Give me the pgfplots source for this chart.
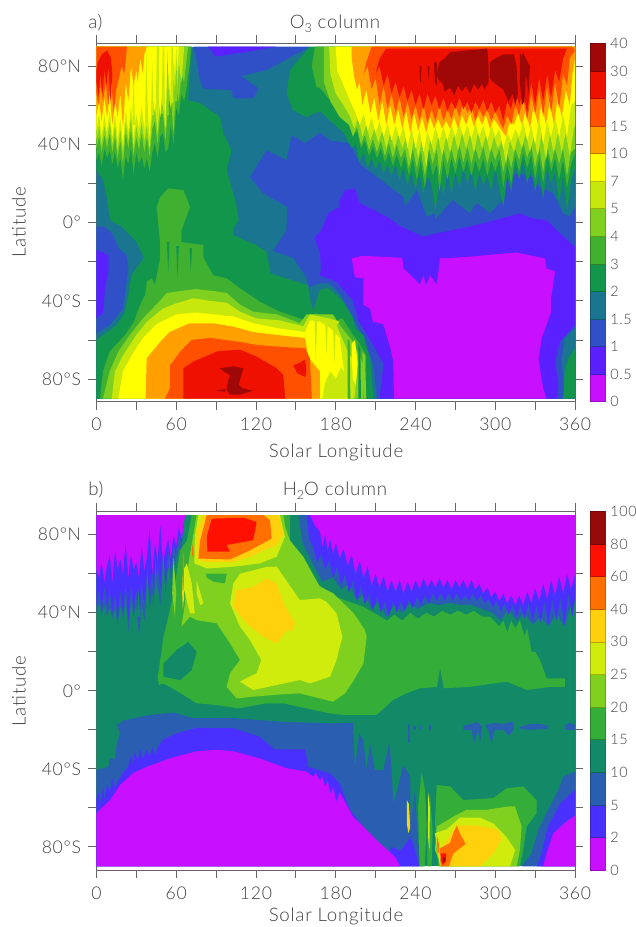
\documentclass[border=0pt]{standalone}
\usepackage{pgfplots}
\pgfplotsset{compat=1.18}
\usepackage{fontspec}
\setmainfont[LetterSpace=4]{Lato Light}
\definecolor{ink}{HTML}{404040}
% ozone palette
\definecolor{aA}{HTML}{C80FFF}\definecolor{aB}{HTML}{5A20FF}\definecolor{aC}{HTML}{3050C8}
\definecolor{aD}{HTML}{1A7590}\definecolor{aE}{HTML}{12964C}\definecolor{aF}{HTML}{40B030}
\definecolor{aG}{HTML}{80D020}\definecolor{aH}{HTML}{C8E80C}\definecolor{aI}{HTML}{FFFF00}
\definecolor{aJ}{HTML}{FFA000}\definecolor{aK}{HTML}{FF5000}\definecolor{aL}{HTML}{F01000}
\definecolor{aM}{HTML}{A00808}
% water palette
\definecolor{bA}{HTML}{C80FFF}\definecolor{bB}{HTML}{4A30FF}\definecolor{bC}{HTML}{2A5EB0}
\definecolor{bD}{HTML}{128A68}\definecolor{bE}{HTML}{34AE38}\definecolor{bF}{HTML}{80D020}
\definecolor{bG}{HTML}{D0EC0C}\definecolor{bH}{HTML}{FFD00C}\definecolor{bI}{HTML}{FF7000}
\definecolor{bJ}{HTML}{FF1000}\definecolor{bK}{HTML}{960A0A}
\newcommand\poly[2]{\addplot[fill=#1,draw=none,forget plot] coordinates {#2} --cycle;}
\newcommand\bin[2]{\addplot[fill=#1,draw=#1!75!black,line width=0.5pt,forget plot] coordinates {(0,#2)(1,#2)(1,#2+1)(0,#2+1)} --cycle;}
\pgfplotsset{
  mapstyle/.style={
    scale only axis, anchor=south west, width=359pt,
    xmin=0,xmax=360,
    axis line style={ink!80,line width=0.6pt},
    tick style={ink!80,line width=0.6pt},
    major tick length=6pt, minor tick length=0pt,
    tick align=outside, tick pos=both,
    xtick={0,30,...,360},
    xticklabels={0,,60,,120,,180,,240,,300,,360},
    ytick={-80,-60,-40,-20,0,20,40,60,80},
    yticklabels={80°S,,40°S,,0°,,40°N,,80°N},
    tick label style={font=\fontsize{13.2}{15}\selectfont,text=ink},
    xticklabel pos=lower, yticklabel pos=left,
    x tick label style={yshift=-3pt},
    y tick label style={xshift=-2pt},
    clip=true,
  },
  barstyle/.style={
    scale only axis, anchor=south west, width=11.8pt,
    xmin=0,xmax=1,xtick=\empty,
    axis line style={ink!60,line width=0.5pt},
    major tick length=0pt,
    yticklabel pos=right,
    tick label style={font=\fontsize{10.8}{14}\selectfont,text=ink},
    y tick label style={xshift=0pt},
  },
}
\begin{document}
\begin{tikzpicture}[x=0.75pt,y=0.75pt]
\useasboundingbox (0,0) rectangle (635,927);
%% ---------------- panel a
\begin{axis}[mapstyle,at={(72.3pt,393.975pt)},height=268.65pt,ymin=-91.6,ymax=91.6]
\poly{aD}{(0,-90)(360,-90)(360,90)(0,90)}
% blue, <=1.5
\poly{aC}{(73,90)(160.6,90)(128,78)(109,75)(122,68.5)(118,63.5)(103,63.5)(101.7,67.7)(80.5,68.5)(77.4,73.7)(75.4,83)}
\poly{aC}{(115.5,23.4)(128,37)(143,32)(147,44.7)(157,40.5)(168,46)(175.7,42)(190.7,40.5)(198,30)(210.8,23.4)(231,13)(232,8)(241,16.6)(248.5,3)(254.6,4.7)(254.6,1.3)(268,11.5)(281,4.7)(286,10)(296,4.7)(307.3,13)(308.5,25)(318.5,25)(328.5,23)(333.5,18)(343.6,15)(351,4.7)(356,3)(360,8)(360,-90)(211,-90)(208,-72)(200,-58)(192,-47)(183,-36)(175,-31)(168,-31)(160,-33)(158,-28)(148,-18)(133,-14.5)(143,-4)(143.5,8)(125.5,15)}
\poly{aC}{(0,-2)(6,-2)(12.7,-6.4)(16.5,-13)(22.7,-16.6)(24,-23.4)(21.5,-37)(20,-44)(10,-52.4)(0,-56.6)}
% violet, <=1
\poly{aB}{(84,90)(135,90)(110,87)(90,85)}
\poly{aB}{(169,-4)(174.4,4.7)(183,8)(183,11.5)(187,16.6)(194.5,17.5)(198,10)(218.5,3)(229,-2)(246,-7.2)(256,-5.5)(281,-2)(293,0)(318.5,4.7)(328.5,2)(338.6,1.3)(350,-6.4)(360,-12.4)(360,-52.4)(348.5,-61)(345,-71)(347.4,-83)(346.6,-90)(213,-90)(216,-72)(205,-59)(197,-50)(193,-40)(180,-30)(168,-27)(169,-23.4)(168,-15)(164,-8)}
\poly{aB}{(0,-14)(9,-16.6)(9,-25)(6.5,-33.6)(5,-46)(0,-49)}
% magenta, <=0.5
\poly{aA}{(192,-18.3)(200,-17)(215,-17.5)(230,-18)(231,-23.4)(243.4,-31.6)(246,-27)(248,-32)(251,-27)(256,-31.6)(258.5,-18)(262,-18.3)(280,-17.5)(298.5,-16.3)(316,-15.3)(337.3,-18.3)(338.5,-23.4)(345,-25)(342,-38.7)(342,-45.6)(335,-59)(332.5,-70)(336,-84.8)(338.5,-90)(223.8,-90)(223.3,-71)(221,-64)(215.8,-52)(208,-50.7)(205.8,-44)(200.8,-42)(200.8,-28.5)(194.5,-28)}
% bottom right corner
\poly{aD}{(360,-54)(352,-59)(350,-71)(352.3,-90)(360,-90)}
\poly{aE}{(360,-64.3)(355,-69.4)(352.3,-76)(351,-90)(360,-90)}
% green, >=2
\poly{aE}{(0,27)(5,22)(7.8,13)(10.3,1.3)(19,-2)(30.3,-10)(35.8,-18)(26.5,-26.8)(24,-37)(21.5,-45.6)(15.3,-52.4)(0,-60)(0,-90)(208.5,-90)(207,-80)(205.8,-69.4)(200.8,-57.5)(194.5,-54)(193,-49)(185.6,-40.5)(180.6,-37)(174,-33.5)(168,-34.5)(163,-45)(161,-40)(159,-32)(131,-26)(128,-15)(120,-11.5)(103,-6.4)(103,-3)(107,1.3)(105,10)(98,27)(101.7,37)(95.5,45.6)(93,54)(78.4,61)(69,62.6)(71.7,90)(0,90)}
\poly{aE}{(168,57)(176,52)(186,46)(192,38)(195,40)(198,31)(201,36)(204,28)(207,33)(210,27)(213,32)(216,25)(219,30)(222,24)(225,30)(228,22)(231,28)(234,19)(237,26)(240,17)(243,25)(246,15)(249,24)(252,20)(255,6)(258,22)(261,14)(264,27)(267,15)(270,26)(273,18)(276,28)(279,20)(282,27)(285,16)(288,26)(291,19)(294,24)(297,16)(300,28)(303,18)(306,8)(309,24)(312,16)(315,30)(318,22)(321,32)(324,20)(327,28)(330,16)(333,26)(336,12)(339,28)(342,20)(345,26)(348,10)(351,24)(354,6)(357,22)(360,28)(360,90)(160.6,90)(145.6,78)(143,66)(148,57.5)(158,54)}
% lime, >=3
\poly{aF}{(0,32)(2,36)(4,29)(6,38)(8,33)(10,37)(12,30)(14,36)(16,28)(18,33)(20,22)(22,34)(24,30)(26,38)(28,25)(30,36)(32,30)(34,34)(36,28)(38,33)(40,26)(42,36)(44,41)(46,33)(48,44)(50,46)(52,36)(54,38)(56,50)(58,40)(60,59)(62,55)(64,66)(66,62)(68,70)(70,80)(71.5,90)(0,90)}
\poly{aF}{(164.4,90)(162,80)(165.7,69)(168,69)(175.7,62.6)(183,57.5)(193.6,45.6)(196,47)(199,38)(202,42)(205,34)(208,39)(211,33)(214,38)(217,31)(220,36)(223,29)(226,35)(229,28)(232,34)(235,24)(238,33)(241,22)(244,32)(247,18)(250,33)(253,24)(256,30)(258,16)(261,32)(264,22)(267,33)(270,25)(273,34)(276,26)(279,33)(282,24)(285,32)(288,26)(291,33)(294,24)(297,32)(300,26)(303,33)(306,18)(309,30)(312,20)(315,34)(318,26)(321,36)(324,28)(327,35)(330,22)(333,33)(336,20)(339,35)(342,26)(345,33)(348,22)(351,32)(354,18)(357,30)(360,35)(360,90)}
\poly{aF}{(2.7,-90)(5,-76)(10,-66)(21.5,-57.5)(28,-51)(33,-42)(36.6,-37)(38,-30)(41.7,-28.5)(44,-32)(48,-18)(48,-11.5)(45.4,8)(48,13)(54,17.5)(65.4,16.6)(70.4,8)(64,-4)(64,-10)(80.5,-11.5)(80.5,-18)(88,-27)(98,-28.5)(108,-33.6)(123,-40.5)(136,-45)(157,-50)(159.5,-47.3)(164.4,-46.4)(168,-47)(178,-50.7)(185,-49)(193,-57.5)(197,-61)(203,-68)(200.8,-90)}
% green streaks in the lime tongue
\poly{aE}{(53,-10)(54,-26)(55,-10)}\poly{aE}{(60,-12)(61,-28)(62,-12)}\poly{aE}{(70,-13)(71,-25)(72,-13)}
% >=4
\poly{aG}{(0,38)(2,44)(4,36)(6,45)(8,38)(10,46)(12,36)(14,44)(16,33)(18,42)(20,30)(22,46)(24,38)(26,48)(28,34)(30,44)(32,37)(34,46)(36,36)(38,44)(40,34)(42,48)(44,52)(46,40)(48,55)(50,56)(52,42)(54,60)(56,64)(58,46)(60,70)(62,62)(64,76)(66,72)(68,84)(69,90)(0,90)}
\poly{aG}{(171,90)(171,72)(176,62)(183,54)(190,50)(193,44)(196,49)(199,40)(202,45)(205,37)(208,43)(211,36)(214,42)(217,34)(220,41)(223,33)(226,40)(229,33)(232,38)(235,28)(238,38)(241,28)(244,37)(247,24)(250,38)(253,30)(256,38)(258,24)(261,38)(264,30)(267,38)(270,30)(273,40)(276,31)(279,39)(282,30)(285,38)(288,32)(291,39)(294,30)(297,38)(300,32)(303,38)(306,26)(309,36)(312,28)(315,38)(318,32)(321,41)(324,33)(327,40)(330,28)(333,39)(336,26)(339,40)(342,30)(345,38)(348,30)(351,38)(354,24)(357,36)(360,38)(360,90)}
\poly{aG}{(5,-90)(10,-76)(16.5,-66)(25,-57.6)(35,-49)(45,-42)(53,-36)(63,-35)(75,-34)(88,-35)(98,-36)(108,-42)(118,-45.6)(136,-47)(153,-51.5)(158,-47)(178,-47)(183,-52.4)(193,-61)(201,-73)(200.8,-90)}
% >=5
\poly{aH}{(0,42)(2,50)(4,40)(6,50)(8,42)(10,52)(12,40)(14,50)(16,37)(18,48)(20,36)(22,52)(24,42)(26,54)(28,38)(30,50)(32,42)(34,52)(36,42)(38,50)(40,38)(42,56)(44,60)(46,46)(48,64)(50,60)(52,48)(54,70)(56,58)(58,74)(60,62)(62,82)(64,72)(66,90)(0,90)}
\poly{aH}{(175,90)(176,76)(180,66)(186,60)(191,54)(194,48)(197,54)(200,44)(203,50)(206,42)(209,48)(212,41)(215,47)(218,38)(221,46)(224,38)(227,45)(230,38)(233,44)(236,32)(239,44)(242,33)(245,43)(248,28)(251,43)(254,35)(257,44)(260,34)(263,44)(266,36)(269,45)(272,37)(275,46)(278,38)(281,45)(284,36)(287,46)(290,38)(293,45)(296,36)(299,44)(302,38)(305,42)(308,30)(311,42)(314,36)(317,44)(320,38)(323,46)(326,36)(329,44)(332,34)(335,46)(338,32)(341,45)(344,36)(347,46)(350,36)(353,46)(356,34)(359,48)(360,50)(360,90)}
\poly{aH}{(11.5,-90)(14,-76)(20,-68)(30,-57.5)(38,-50.7)(50,-44)(60,-41.3)(73,-38.7)(85,-40)(98,-41)(108,-45.6)(120.6,-49)(138,-50)(155.6,-53)(160.6,-47)(175,-49)(183,-50.7)(180.6,-52.4)(189,-66)(192,-69)(196,-76)(194,-90)}
% >=7
\poly{aI}{(0,47)(2,56)(4,44)(6,56)(8,46)(10,58)(12,44)(14,56)(16,42)(18,54)(20,40)(22,58)(24,46)(26,60)(28,44)(30,56)(32,48)(34,60)(36,48)(38,62)(40,44)(42,66)(44,56)(46,70)(48,54)(50,72)(52,56)(54,78)(56,62)(58,84)(60,70)(62,90)(0,90)}
\poly{aI}{(180,90)(181,78)(186,70)(191,62)(195,56)(198,50)(201,56)(204,47)(207,54)(210,46)(213,52)(216,44)(219,51)(222,42)(225,50)(228,43)(231,50)(234,38)(237,49)(240,38)(243,48)(246,36)(249,47)(252,40)(255,49)(258,42)(261,49)(264,42)(267,50)(270,44)(273,51)(276,44)(279,50)(282,43)(285,51)(288,44)(291,50)(294,42)(297,50)(300,44)(303,48)(306,38)(309,46)(312,42)(315,48)(318,44)(321,52)(324,42)(327,50)(330,40)(333,54)(336,40)(339,52)(342,44)(345,54)(348,44)(351,56)(354,44)(357,60)(360,62)(360,90)}
\poly{aI}{(16.5,-90)(20,-76)(26.5,-68)(35,-59)(45,-52)(60,-47)(75,-46)(88,-47)(103,-48)(118,-51.5)(136,-54)(157,-56)(160.6,-50)(168,-50.7)(175.7,-54)(183,-59)(185.6,-73)(189.3,-90)}
\poly{aI}{(192,-62)(194.5,-60)(196.5,-72)(195,-83)(193,-80)(192,-70)}
% streaks across the northern yellow, lon 25-60
\poly{aH}{(27,50)(28,78)(29,50)}\poly{aH}{(36.5,50)(37.5,86)(39,50)}\poly{aH}{(41,55)(42,82)(43,55)}
\poly{aH}{(44.5,55)(45.5,90)(47,90)(47,55)}\poly{aH}{(49,60)(50,90)(51,90)(51.5,60)}
\poly{aG}{(52.5,55)(53.5,88)(54.5,55)}\poly{aH}{(55.5,60)(56.5,90)(57.5,90)(58,62)}\poly{aG}{(59,62)(60,90)(61,62)}
% streaks of the southern tongue
\poly{aH}{(170,-90)(172,-82)(176,-76)(180,-80)(184,-74)(188,-78)(190,-90)}
\poly{aH}{(164,-50)(165,-70)(166,-50)}\poly{aH}{(172,-50)(173,-68)(174,-52)}\poly{aH}{(178,-55)(179,-72)(180,-55)}
\poly{aF}{(189,-60)(190.5,-60)(191,-90)(189,-90)}
\poly{aE}{(197,-62)(198.5,-64)(199,-90)(197,-90)}
\poly{aG}{(200,-66)(202,-68)(203,-90)(201,-90)}
% >=10
\poly{aJ}{(0,55)(2,62)(4,52)(6,64)(8,54)(10,66)(12,50)(14,62)(16,54)(18,66)(20,48)(22,72)(24,62)(26,80)(28,70)(30,78)(31,72)(33,84)(35,76)(36,86)(38,90)(0,90)}
\poly{aJ}{(192,90)(192,84)(194,74)(196,68)(198,72)(200,60)(203,68)(206,56)(209,64)(212,52)(215,62)(218,50)(221,60)(224,50)(227,58)(230,48)(233,57)(236,46)(239,56)(242,47)(245,54)(248,46)(251,54)(254,48)(257,53)(260,48)(263,52)(266,48)(269,54)(272,48)(275,55)(278,50)(281,56)(284,49)(287,55)(290,50)(293,55)(296,48)(299,53)(302,50)(305,47)(308,44)(311,52)(314,50)(317,56)(320,50)(323,58)(326,48)(329,60)(332,50)(335,62)(338,50)(341,62)(344,50)(347,64)(350,54)(353,68)(356,60)(358,76)(360,84)(360,90)}
\poly{aJ}{(37,-90)(37.8,-69.4)(48,-61)(55,-56)(70,-51.5)(88,-51.5)(103,-53.2)(118,-56)(136,-57.5)(157,-59)(159.4,-69)(168,-76)(168,-90)}
% >=15
\poly{aK}{(0,66)(1.5,60)(3,70)(5,62)(7,72)(9,60)(11,74)(13,56)(15,68)(17,74)(19,80)(21,76)(23,90)(0,90)}
\poly{aK}{(207,90)(203,82)(201,76)(204,80)(207,68)(210,74)(213,60)(216,70)(219,58)(222,66)(225,56)(228,64)(231,54)(234,62)(237,53)(240,60)(243,52)(246,60)(249,51)(252,58)(255,52)(258,60)(261,52)(264,58)(267,53)(270,60)(273,54)(276,62)(279,56)(282,60)(285,52)(288,58)(291,54)(294,58)(297,52)(300,57)(303,52)(306,48)(309,55)(312,50)(315,60)(318,55)(321,64)(324,52)(327,66)(330,55)(333,68)(336,54)(339,70)(342,56)(345,72)(348,58)(351,76)(354,70)(356,84)(360,88)(358,90)}
\poly{aK}{(51.6,-90)(55.4,-84.6)(55.4,-73)(63,-66)(71.7,-60)(85.5,-59)(108,-61)(120.6,-62.6)(135.6,-63.4)(157,-64.3)(160.6,-69.4)(162,-90)}
% >=20
\poly{aL}{(0,72)(1.5,64)(3,76)(4.5,66)(6,78)(7.5,70)(9,80)(10.5,62)(12,76)(11,84)(8,88)(4,86)(1,82)(0,78)}
\poly{aL}{(218,89)(213,84)(210,76)(213,80)(216,70)(219,76)(222,66)(225,72)(228,64)(231,70)(234,62)(237,68)(240,60)(243,66)(246,58)(249,66)(252,60)(255,65)(258,58)(261,64)(264,57)(267,62)(270,58)(273,64)(276,58)(279,62)(282,56)(285,62)(288,58)(291,63)(294,57)(297,62)(300,56)(303,60)(306,52)(309,62)(312,58)(315,68)(318,60)(321,68)(324,56)(327,72)(330,60)(333,74)(336,62)(339,76)(342,64)(345,78)(348,72)(351,84)(354,89)}
\poly{aL}{(65.4,-90)(65.4,-74.5)(73,-71)(91.7,-65.7)(108,-65)(120.6,-68.6)(135.6,-74.5)(140.6,-78)(142,-90)}
\poly{aL}{(148,-73)(152,-72)(157,-70)(158,-76)(157,-79)(151,-77)}
% >=30
\poly{aM}{(258,82)(262,84)(266,87)(278,88)(294,89)(295,80)(295,72)(292,68)(290,71)(287,68)(284,71)(281,66)(278,70)(275,67)(272,70)(269,65)(266,69)(262,67)(260,72)(258,72)(256,76)}
\poly{aM}{(296,82)(300,84)(306,86)(314,86)(316,80)(317,66)(315,60)(313,66)(310,62)(306,68)(302,70)(298,72)(296,74)}
\poly{aM}{(318.5,87)(320,85)(321,87)(323,84)(326,80)(325,66)(323,76)(322,62)(320,60)(318.5,72)}
\poly{aM}{(243,80)(244.5,80)(244,72)(243.5,72)}
\poly{aM}{(249,80)(250.5,80)(250,73)}
\poly{aM}{(254,82)(256,82)(256,70)(254.5,72)}
\poly{aM}{(93,-74.5)(103,-73.5)(110.5,-74.5)(109,-78)(107,-83)(110,-84.8)(118,-86)(108,-88)(100.5,-88)(98,-85.6)(99,-81)(100.5,-78)(95.5,-76)}
\poly{aM}{(90,-86)(97,-85)(97,-86.5)}
\end{axis}
%% ---------------- panel b
\begin{axis}[mapstyle,at={(72.3pt,42.525pt)},height=269.25pt,ymin=-92,ymax=92]
\poly{bD}{(0,-90)(360,-90)(360,90)(0,90)}
% <=10
\poly{bC}{(0,40)(2,45)(4,39)(6,44)(8,38)(10,43)(12,37)(14,42)(16,34)(18,44)(20,37)(22,47)(24,30)(26,46)(28,38)(30,44)(32,28)(34,44)(36,36)(38,48)(40,42)(42,50)(44,40)(46,54)(48,44)(50,60)(52,50)(54,64)(56,56)(58,68)(60,62)(62,74)(64,70)(66,90)(0,90)}
\poly{bC}{(152,90)(155,76)(162,66)(170,56)(178,58)(184,52)(190,55)(196,46)(201,50)(207,42)(212,46)(218,38)(224,44)(230,40)(236,45)(242,42)(250,45)(258,44)(266,45)(274,44)(282,44)(290,42)(298,40)(304,36)(310,42)(316,36)(322,40)(328,34)(334,38)(340,33)(346,40)(352,33)(356,42)(360,46)(360,90)}
\poly{bC}{(0,-40.6)(9,-39)(10.3,-34.6)(14,-34.6)(15.3,-27)(17.8,-21.8)(15.3,-17.5)(21.6,-15)(40.3,-12.4)(58,-11.2)(72.7,-14)(102.7,-14)(141.7,-16)(178,-16.7)(193,-16.3)(194.5,-39.7)(197.7,-21.8)(200.7,-25.2)(203.3,-40.6)(205.8,-27)(209.5,-40.6)(215.8,-40.6)(220.4,-26)(222.2,-42.3)(223.3,-57.7)(226.4,-50.8)(230.7,-38)(236,-44)(236.4,-68)(239.6,-50.8)(242,-78)(245.8,-90)(0,-90)}
\poly{bC}{(320,-90)(327.3,-83.3)(332.3,-71.3)(341,-59.3)(347.3,-51)(351,-44)(360,-41.4)(360,-90)}
\poly{bC}{(234,-17)(236,-17)(236,-27)(234,-27)}\poly{bC}{(238,-18)(240,-18)(240,-20)(238,-20)}
\poly{bC}{(243,-17.5)(244.5,-17.5)(244.5,-20)(243,-20)}\poly{bC}{(250,-17.5)(251.5,-17.5)(251.5,-20)(250,-20)}
\poly{bC}{(276,-18)(282,-17)(286,-16)(290,-18)(288.5,-27)(287,-20)(284,-27)(282.3,-20)(276,-20)}
\poly{bC}{(292,-17.5)(300,-16.5)(304.7,-17)(313.5,-15.8)(314,-20)(310,-23)(306,-20)(299.7,-20)(297,-27)(294.7,-20)}
\poly{bC}{(318.5,-18.5)(326,-17)(333.7,-17)(340,-18)(340,-19.5)(326,-20)(318.5,-19.5)}
\poly{bC}{(352.4,-17.5)(356,-16.5)(360,-17.5)(360,-20)(352.4,-20)}
% <=5
\poly{bB}{(0,44)(2,52)(4,42)(6,54)(8,42)(10,52)(12,40)(14,50)(16,38)(18,52)(20,40)(22,56)(24,36)(26,54)(28,42)(30,52)(32,34)(34,56)(36,44)(38,60)(40,48)(42,62)(44,46)(46,66)(48,52)(50,70)(52,56)(54,72)(56,62)(58,76)(60,68)(62,80)(64,76)(66.5,90)(0,90)}
\poly{bB}{(158,90)(160,78)(163,74)(166,66)(169,70)(172,62)(175,67)(178,58)(181,64)(184,54)(187,60)(190,50)(193,57)(196,46)(199,54)(202,44)(205,50)(208,41)(211,48)(214,40)(217,46)(220,38)(223,46)(226,40)(229,46)(232,41)(235,47)(238,42)(241,48)(244,44)(247,49)(250,45)(253,50)(256,46)(259,50)(262,46)(265,50)(268,46)(271,50)(274,46)(277,49)(280,46)(283,50)(286,46)(289,49)(292,45)(295,47)(298,43)(301,46)(304,41)(307,45)(310,39)(313,44)(316,38)(319,44)(322,37)(325,45)(328,36)(331,44)(334,35)(337,46)(340,34)(343,47)(346,36)(349,48)(352,34)(355,50)(358,38)(360,48)(360,90)}
\poly{bB}{(0,-55)(2,-52)(3,-58)(5,-50)(6,-56)(8,-48)(10,-52)(12,-45)(14,-50)(16.5,-46)(20,-42)(24,-39)(26,-33)(27,-38)(29,-31)(31,-36)(33,-30)(35,-35)(38,-30)(40,-34)(42,-29)(44,-33)(47,-28)(50.4,-25)(60.4,-21.8)(75.4,-19)(103,-19.2)(122.6,-23.5)(134,-30)(157,-30)(159.4,-39)(175.6,-42.3)(183,-47.4)(190.7,-61)(200.7,-69.6)(210.7,-78)(218.7,-85)(222.2,-80)(228.5,-82)(236.7,-75)(243,-90)(0,-90)}
\poly{bB}{(331.5,-90)(335.4,-81.6)(339.6,-69.6)(349,-57.7)(360,-50.8)(360,-90)}
% <=2
\poly{bA}{(0,62)(2,58)(4,66)(6,56)(8,64)(10,70)(12,56)(14,72)(16,62)(18,68)(20,60)(22,76)(24,58)(26,70)(28,62)(30,66)(32,58)(34,74)(36,62)(38,68)(40,84)(42,60)(44,76)(46,66)(48,86)(50,66)(52,72)(54,78)(56,68)(58,80)(60,74)(62,84)(64,78)(66.7,90)(0,90)}
\poly{bA}{(160.6,90)(165,84)(168,82)(170,74)(172,80)(174,72)(176,78)(178,70)(180,76)(183,68)(186,73)(189,64)(192,70)(195,60)(198,67)(201,58)(204,64)(207,54)(210,60)(213,53)(216,59)(219,51)(222,57)(225,51)(228,57)(231,50)(234,56)(237,51)(240,57)(243,52)(246,58)(249,53)(252,57)(255,53)(258,58)(261,53)(264,57)(267,52)(270,57)(273,53)(276,57)(279,52)(282,57)(285,52)(288,55)(291,50)(294,53)(297,48)(300,51)(303,46)(306,50)(309,45)(312,49)(315,44)(318,49)(321,44)(324,51)(327,45)(330,53)(333,46)(336,55)(339,47)(342,57)(345,49)(348,59)(351,50)(354,60)(357,52)(360,60)(360,90)}
\poly{bA}{(0,-62.8)(2.5,-61)(10.3,-56)(17.8,-48.3)(28,-42)(37.8,-39)(55.4,-34.6)(75.4,-31)(90.5,-30.3)(103,-31)(122.6,-34.6)(143,-39.7)(158,-41.4)(163,-44)(165,-42)(168,-46)(170,-44)(172,-49)(174,-46)(176,-53)(178,-49)(180.5,-57)(183,-52)(193,-64.5)(200.7,-69.6)(213,-78)(224.5,-85)(228.5,-90)(0,-90)}
\poly{bA}{(336,-90)(338.6,-83.3)(343.6,-73)(353.6,-67)(360,-64)(360,-90)}
% teal streaks rising into the violet, lon 30-62
\poly{bD}{(30.5,38)(31.5,52)(33,38)}\poly{bD}{(37,40)(38.5,62)(40,40)}\poly{bD}{(43,40)(44.5,68)(46,40)}\poly{bD}{(49,42)(50.5,74)(52,42)}\poly{bD}{(54,50)(55,70)(56,50)}\poly{bD}{(59,55)(60,74)(61,55)}
% >=15
\poly{bE}{(71.7,90)(68,77)(63,72)(58,50)(53,34.6)(50.4,27.7)(49,20)(46,7)(47,3)(50.4,3.8)(60.4,0)(75.4,-6.4)(90.5,-7.3)(106.8,-9)(128,-6.4)(140.6,-6.4)(158,-9)(175.6,-11.6)(185.5,-12.4)(210.7,-12.4)(223,-4.7)(233,-1.3)(243.4,1.3)(256,2)(258.5,11.5)(261.3,1.3)(281,2)(308.5,4.7)(323.7,0.4)(341,2)(352.4,2)(352.4,6.4)(338.6,6.4)(333.6,15.8)(330,20)(327.3,20)(324,32)(322,28)(318.5,36)(315,32)(312,36)(309,30)(306,36)(303,33)(296,38)(290,38)(284,41)(278,39)(272,41)(266,39)(260,41)(254,38)(248,40)(242,37)(236,40)(230,36)(224,39)(218.6,36)(200.8,43)(180.6,48)(168,54)(159.4,55)(155.6,65)(145.6,77)(145.6,90)}
\poly{bD}{(50.4,14)(60.4,20.9)(69,25)(75.4,20)(71.7,10.7)(63,5.5)(50.4,7.2)}
\poly{bE}{(256,-48.3)(265.9,-49)(276,-56)(298.5,-55)(308.5,-50)(321,-49)(331,-56)(331,-62.8)(323.6,-69.6)(321,-81.6)(318.5,-90)(257,-90)(254.6,-68)}
\poly{bE}{(244.6,-41.4)(247.1,-50.8)(248.4,-68)(247,-90)(243,-90)(242,-59.5)}
\poly{bE}{(250.8,-52.5)(252.9,-71.3)(252.1,-90)(249,-90)(249,-68)}
% >=20
\poly{bF}{(75.4,90)(71.7,75.5)(68,60)(66.7,45)(64,33)(70.4,38)(75.4,36.2)(90.5,34.6)(100.5,24.3)(108,15.8)(100.5,9)(98,2)(105.5,-3.9)(118,-3)(135.6,-2)(153,-1.3)(178,-5.6)(187,-1.3)(193.6,5.5)(200.8,14)(203.3,27.7)(202,31)(193.6,39.7)(178,50)(168,53.4)(155.6,68.7)(145.6,77)(142,84)(140.6,90)}
\poly{bF}{(268.4,-64.5)(278.4,-61)(293.5,-61)(309.8,-59.3)(314.8,-59.3)(319.8,-69.6)(318.5,-81.6)(316,-90)(259.6,-90)(254.6,-81.6)(256,-69.6)}
\poly{bF}{(58,68)(60,50)(59,38)(57,50)}
% >=25
\poly{bG}{(76.7,90)(74,79)(73.7,65.3)(83,62.7)(103,63.6)(123,65.3)(135.6,68.7)(141.8,79)(138,90)}
\poly{bE}{(82.4,60)(98,60)(96.7,55)(88,55.9)(83,58)}
\poly{bG}{(135.6,63.6)(128,63.5)(108,60)(103,55)(100.5,44.8)(108,32.9)(115.5,26)(124,15.8)(120.5,9)(108,4.7)(118,0.4)(153,5.5)(160.6,3.8)(175.7,7.2)(180.6,15.8)(185,27.7)(180.6,39.7)(173,45.6)(168,47.4)(153,46.5)}
\poly{bG}{(75.4,56.7)(80.4,44.8)(78,44)(75.4,50)}
\poly{bG}{(68,65.3)(71.7,55)(74,39.7)(70.4,39.7)(65.4,53.3)(65.4,62)}
\poly{bG}{(254.6,-73)(263.5,-71)(273.5,-65)(288.5,-65)(298.5,-68)(308.5,-75)(315,-81.6)(311,-90)(258.4,-90)}
\poly{bG}{(233.5,-56)(235,-58)(236,-70)(234.6,-73)(233.5,-68)}
\poly{bG}{(249.5,-52)(250.8,-60)(250.5,-82)(249.5,-75)}
% >=30
\poly{bH}{(80.4,90)(75.4,80.7)(75.4,68.7)(80.4,66)(103,66)(115.5,68.7)(125.6,72)(135.6,74.7)(140.6,80.7)(136.8,90)}
\poly{bH}{(128,57.6)(135.6,55)(140.6,44.8)(149.4,34.6)(148,31)(143,31)(135.6,24.3)(125.6,27.7)(113,34.6)(103,43)(105.5,51.6)(118,53.3)}
\poly{bH}{(271.1,-69)(286,-69)(302.3,-71.3)(304.7,-76.4)(298.5,-83.3)(288.5,-90)(264.7,-90)(258,-82)}
\poly{bH}{(234,-60)(235,-60)(235.5,-68)(234.7,-72)(234,-68)}
\poly{bH}{(65,60)(66,48)(65,42)(64.5,50)}
% >=40
\poly{bI}{(83,90)(78,77)(76.7,67.8)(100.5,67.3)(115.5,72)(131.8,78)(130.6,87.5)(125.6,90)}
\poly{bI}{(271.1,-69)(273.3,-73)(277.7,-78.5)(268.5,-83.3)(265,-90)(258.9,-90)(258.4,-80.7)(266,-78)(268.4,-73)}
\poly{bI}{(256,-74)(257.5,-78)(258,-84)(256.5,-82)}
\poly{bI}{(65,72)(66,68)(65.5,52)(65,56)}
\poly{bI}{(72,75)(73,72)(72.8,68)(72,70)}
% >=60
\poly{bJ}{(86.7,88)(83,79)(83.5,71.3)(100.5,71.3)(98,74.7)(118,77.2)(120.5,86.6)(110.5,88.7)(90,88.3)}
\poly{bJ}{(259,-83.3)(263,-83.3)(263,-87.5)(260.4,-89.3)(259,-87)}
% >=80
\poly{bK}{(261,-85)(262.5,-86)(261.5,-88)(260.5,-87)}
\end{axis}
%% ---------------- colour bars
\begin{axis}[barstyle,at={(442.5pt,393.975pt)},height=268.65pt,ymin=0,ymax=13,ytick={0,...,13},
  yticklabels={0,0.5,1,1.5,2,3,4,5,7,10,15,20,30,40}]
\bin{aA}{0}\bin{aB}{1}\bin{aC}{2}\bin{aD}{3}\bin{aE}{4}\bin{aF}{5}\bin{aG}{6}\bin{aH}{7}\bin{aI}{8}\bin{aJ}{9}\bin{aK}{10}\bin{aL}{11}\bin{aM}{12}
\end{axis}
\begin{axis}[barstyle,at={(442.5pt,42.525pt)},height=269.25pt,ymin=0,ymax=11,ytick={0,...,11},
  yticklabels={0,2,5,10,15,20,25,30,40,60,80,100}]
\bin{bA}{0}\bin{bB}{1}\bin{bC}{2}\bin{bD}{3}\bin{bE}{4}\bin{bF}{5}\bin{bG}{6}\bin{bH}{7}\bin{bI}{8}\bin{bJ}{9}\bin{bK}{10}
\end{axis}
%% ---------------- titles and axis names
\begin{scope}[every node/.style={text=ink,font=\fontsize{14}{16}\selectfont,inner sep=0pt}]
\node[anchor=base west] at (88,898) {a)};
\node[anchor=base] at (335,898) {O\raisebox{-0.35ex}{\fontsize{9.5}{10}\selectfont 3} column};
\node[anchor=base] at (336,469) {Solar Longitude};
\node[rotate=90] at (19,705) {Latitude};
\node[anchor=base west] at (88,431) {b)};
\node[anchor=base] at (335,431) {H\raisebox{-0.35ex}{\fontsize{9.5}{10}\selectfont 2}O column};
\node[anchor=base] at (336,5) {Solar Longitude};
\node[rotate=90] at (19,236) {Latitude};
\end{scope}
\end{tikzpicture}
\end{document}
